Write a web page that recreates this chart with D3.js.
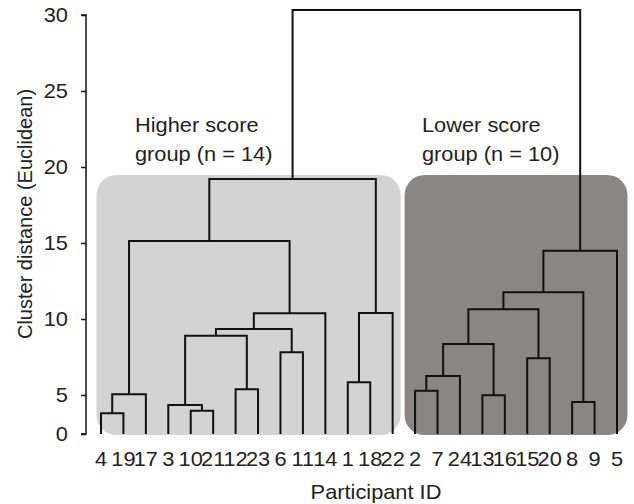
<!DOCTYPE html>
<html><head><meta charset="utf-8">
<script src="https://cdn.jsdelivr.net/npm/d3@7"></script>
<style>body{margin:0;background:#fff}svg{display:block}text{font-family:"Liberation Sans",Arial,sans-serif;fill:#222}</style>
</head><body>
<svg id="c" width="634" height="504"></svg>
<script>
// Leaf order (participant IDs)
const participants = [4,19,17,3,10,21,12,23,6,11,14,1,18,22,2,7,24,13,16,15,20,8,9,5];
// Linkage: each merge joins two nodes (participant "p<ID>" or earlier cluster "c<k>")
const mergeA = ["p4","c0","p10","p3","p12","c3","p6","c5","c7","c1","p1","c10","c9","p2","c13","p13","c14","p15","c16","p8","c18","c20","c12"];
const mergeB = ["p19","p17","p21","c2","p23","c4","p11","c6","p14","c8","p18","p22","c11","p7","p24","p16","c15","p20","c17","p9","c19","p5","c21"];
const mergeHeight = [2.65,5.05,2.99,3.72,5.38,8.90,7.81,9.34,10.38,15.13,5.84,10.39,19.21,5.28,6.25,4.96,8.36,7.41,10.64,4.10,11.76,14.49,30.33];
const yTicks = [0,5,10,15,20,25,30];
const groupNames = [["Higher score","group (n = 14)"],["Lower score","group (n = 10)"]];
const groupSizes = [14,10];

const FS = 20, SX = 1.09;
const svg = d3.select("#c");
const x = d3.scalePoint().domain(participants).range([101,617]);
// axis is compressed between 0 and 5 in the original
const y = d3.scaleLinear().domain([0,5,30]).range([434,395,15]);

// group panels
const leftIds = participants.slice(0,groupSizes[0]);
const rightIds = participants.slice(groupSizes[0]);
svg.append("rect").attr("x",x(leftIds[0])-4.5).attr("y",y(19.47))
  .attr("width",x(leftIds[leftIds.length-1])+8-(x(leftIds[0])-4.5)).attr("height",y(0)+1-y(19.47))
  .attr("rx",20).attr("fill","#d3d3d3");
svg.append("rect").attr("x",x(rightIds[0])-10.5).attr("y",y(19.47))
  .attr("width",x(rightIds[rightIds.length-1])+10.5-(x(rightIds[0])-10.5)).attr("height",y(0)+1-y(19.47))
  .attr("rx",20).attr("fill","#8b8686");

// dendrogram
const nodes = {};
participants.forEach(p=>{nodes["p"+p]={x:x(p),h:0};});
const g = svg.append("g").attr("fill","none").attr("stroke","#111").attr("stroke-width",2);
mergeA.forEach((a,i)=>{
  const A=nodes[a], B=nodes[mergeB[i]], h=mergeHeight[i];
  const yh=y(h);
  g.append("path").attr("d",`M${A.x},${y(A.h)}V${yh}H${B.x}V${y(B.h)}`);
  nodes["c"+i]={x:(A.x+B.x)/2,h:h};
});

// y axis
const ax = svg.append("g").attr("transform","translate(86,0)")
  .call(d3.axisLeft(y).tickValues(yTicks).tickSize(5).tickPadding(13));
ax.select(".domain").attr("stroke","#111").attr("stroke-width",1.5).attr("d",`M-5,${y(30)}H0V${y(0)}H-5`);
ax.selectAll(".tick line").attr("stroke","#111").attr("stroke-width",1.5);
ax.selectAll(".tick text").attr("font-size",FS).attr("fill","#222")
  .attr("font-family","Liberation Sans, Arial, sans-serif")
  .attr("x",0).attr("transform",`translate(-18,0) scale(${SX},1)`);

// x labels
svg.append("g").selectAll("text").data(participants).join("text")
  .attr("transform",d=>`translate(${x(d)},466) scale(${SX},1)`)
  .attr("text-anchor","middle").attr("font-size",FS).text(d=>d);

// titles
svg.append("text").attr("transform",`translate(376,499) scale(${SX},1)`).attr("text-anchor","middle").attr("font-size",FS).text("Participant ID");
svg.append("text").attr("transform","translate(32,214) rotate(-90)").attr("text-anchor","middle").attr("font-size",FS).text("Cluster distance (Euclidean)");

// group labels
const gl = [[135,132],[422,132]];
groupNames.forEach((lines,i)=>{
  lines.forEach((t,j)=>{
    svg.append("text").attr("transform",`translate(${gl[i][0]},${gl[i][1]+j*28.5}) scale(${SX},1)`).attr("font-size",FS).text(t);
  });
});
</script>
</body></html>
